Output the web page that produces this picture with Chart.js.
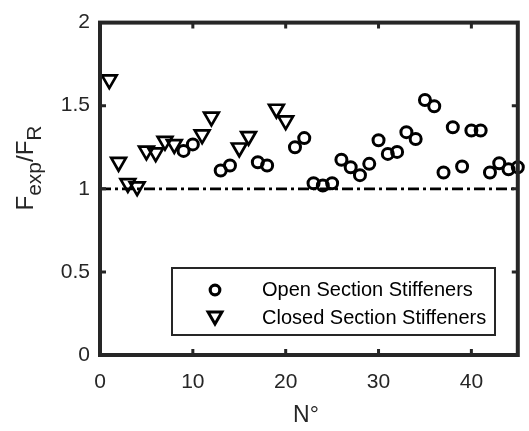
<!DOCTYPE html>
<html><head><meta charset="utf-8">
<script src="https://cdn.jsdelivr.net/npm/chart.js@4/dist/chart.umd.min.js"></script>
<style>html,body{margin:0;padding:0;background:#fff;overflow:hidden}</style>
</head><body>
<canvas id="c" width="529" height="431"></canvas>
<script>
// ---- data ----
const openX = [9,10,13,14,17,18,21,22,23,24,25,26,27,28,29,30,31,32,33,34,35,36,37,38,39,40,41,42,43,44,45];
const openY = [1.228,1.267,1.11,1.14,1.16,1.14,1.25,1.305,1.033,1.02,1.033,1.175,1.13,1.082,1.15,1.292,1.21,1.222,1.341,1.30,1.534,1.497,1.098,1.37,1.134,1.351,1.351,1.098,1.154,1.117,1.13];
const closedX = [1,2,3,4,5,6,7,8,11,12,15,16,19,20];
const closedY = [1.657,1.16,1.033,1.013,1.228,1.218,1.287,1.267,1.326,1.433,1.247,1.316,1.48,1.41];
const refX = [0,45];
const refY = [1,1];
const xTicks = [0,10,20,30,40];
const xTickLabels = ['0','10','20','30','40'];
const yTicks = [0,0.5,1,1.5,2];
const yTickLabels = ['0','0.5','1','1.5','2'];
const seriesNames = ['Open Section Stiffeners','Closed Section Stiffeners'];
const xTitle = 'N°';
const yTitleParts = [['F',false],['exp',true],['/F',false],['R',true]];

const FONT = '"Liberation Sans", Arial, Helvetica, sans-serif';
const AX = '#262626';
const pts = (xs, ys) => xs.map((x,i)=>({x, y: ys[i]}));

const framePlugin = {
  id:'frame',
  afterDatasetsDraw(chart){
    const {ctx, chartArea:a, scales:{x, y}} = chart;
    ctx.save();
    ctx.strokeStyle = AX;
    ctx.lineWidth = 3;
    const tl = 6;
    ctx.beginPath();
    xTicks.forEach(v=>{ const px = x.getPixelForValue(v);
      if (px>a.left+2 && px<a.right-2){ ctx.moveTo(px,a.bottom); ctx.lineTo(px,a.bottom-tl); ctx.moveTo(px,a.top); ctx.lineTo(px,a.top+tl);} });
    yTicks.forEach(v=>{ const py = y.getPixelForValue(v);
      if (py>a.top+2 && py<a.bottom-2){ ctx.moveTo(a.left,py); ctx.lineTo(a.left+tl,py); ctx.moveTo(a.right,py); ctx.lineTo(a.right-tl,py);} });
    ctx.stroke();
    ctx.lineWidth = 4;
    ctx.strokeRect(a.left, a.top, a.right-a.left, a.bottom-a.top);
    ctx.restore();
  },
  afterDraw(chart){
    const {ctx} = chart;
    ctx.save();
    // x title
    ctx.fillStyle = AX;
    ctx.font = '23px ' + FONT;
    ctx.textAlign = 'center';
    ctx.textBaseline = 'alphabetic';
    ctx.fillText(xTitle, 306, 422);
    // y title with subscripts
    ctx.translate(33, 168);
    ctx.rotate(-Math.PI/2);
    const mainF = '24px ' + FONT, subF = '21px ' + FONT;
    let total = 0;
    yTitleParts.forEach(([t,s])=>{ ctx.font = s?subF:mainF; total += ctx.measureText(t).width; });
    let cx = -total/2;
    ctx.textAlign = 'left';
    yTitleParts.forEach(([t,s])=>{ ctx.font = s?subF:mainF; ctx.fillText(t, cx, s?8:0); cx += ctx.measureText(t).width; });
    ctx.restore();

    // legend box
    ctx.save();
    const bx=172, by=268, bw=323, bh=67;
    ctx.fillStyle='#fff';
    ctx.fillRect(bx,by,bw,bh);
    ctx.strokeStyle=AX; ctx.lineWidth=2;
    ctx.strokeRect(bx,by,bw,bh);
    ctx.strokeStyle='#000';
    ctx.lineWidth=3.2;
    ctx.beginPath(); ctx.arc(215,290,4.8,0,Math.PI*2); ctx.stroke();
    // triangle (down)
    const r=8, tx=215, ty=316;
    ctx.lineWidth=3;
    ctx.beginPath();
    ctx.moveTo(tx - r*Math.sqrt(3)/2, ty - r/2);
    ctx.lineTo(tx + r*Math.sqrt(3)/2, ty - r/2);
    ctx.lineTo(tx, ty + r);
    ctx.closePath(); ctx.stroke();
    ctx.fillStyle='#000';
    ctx.font='20px ' + FONT;
    ctx.textAlign='left'; ctx.textBaseline='middle';
    ctx.fillText(seriesNames[0], 262, 290);
    ctx.fillText(seriesNames[1], 262, 318);
    ctx.restore();
  }
};

new Chart(document.getElementById('c'), {
  type:'scatter',
  data:{ datasets:[
    { label: seriesNames[0], data: pts(openX, openY), pointStyle:'circle', pointRadius:5.5, pointBorderWidth:3,
      borderColor:'#000', backgroundColor:'rgba(0,0,0,0)', showLine:false, clip:false, order:2 },
    { label: seriesNames[1], data: pts(closedX, closedY), pointStyle:'triangle', rotation:180, pointRadius:8.5, pointBorderWidth:2.7,
      borderColor:'#000', backgroundColor:'rgba(0,0,0,0)', showLine:false, clip:false, order:2 },
    { type:'line', label:'ref', data: pts(refX, refY), showLine:true, pointRadius:0, borderColor:'#000', borderWidth:2.7,
      borderDash:[11,4,3,4], fill:false, clip:false, order:1 }
  ]},
  options:{
    responsive:false, animation:false, devicePixelRatio:1,
    layout:{ padding:{ top:13, right:9, left:0, bottom:0 } },
    plugins:{ legend:{display:false}, tooltip:{enabled:false} },
    events:[],
    scales:{
      x:{ type:'linear', min:0, max:45,
        afterFit(s){ s.height = 76; },
        afterBuildTicks(s){ s.ticks = xTicks.map(v=>({value:v})); },
        grid:{ display:false, drawTicks:false }, border:{ display:false },
        ticks:{ padding:15, color:AX, font:{ size:21, family:FONT }, maxRotation:0,
          callback:(v)=>{ const i = xTicks.indexOf(v); return i>=0 ? xTickLabels[i] : ''; } } },
      y:{ type:'linear', min:0, max:2,
        afterFit(s){ s.width = 100; },
        afterBuildTicks(s){ s.ticks = yTicks.map(v=>({value:v})); },
        grid:{ display:false, drawTicks:false }, border:{ display:false },
        ticks:{ padding:10, color:AX, font:{ size:21, family:FONT },
          callback:(v)=>{ const i = yTicks.indexOf(v); return i>=0 ? yTickLabels[i] : ''; } } }
    }
  },
  plugins:[framePlugin]
});
</script>
</body></html>
